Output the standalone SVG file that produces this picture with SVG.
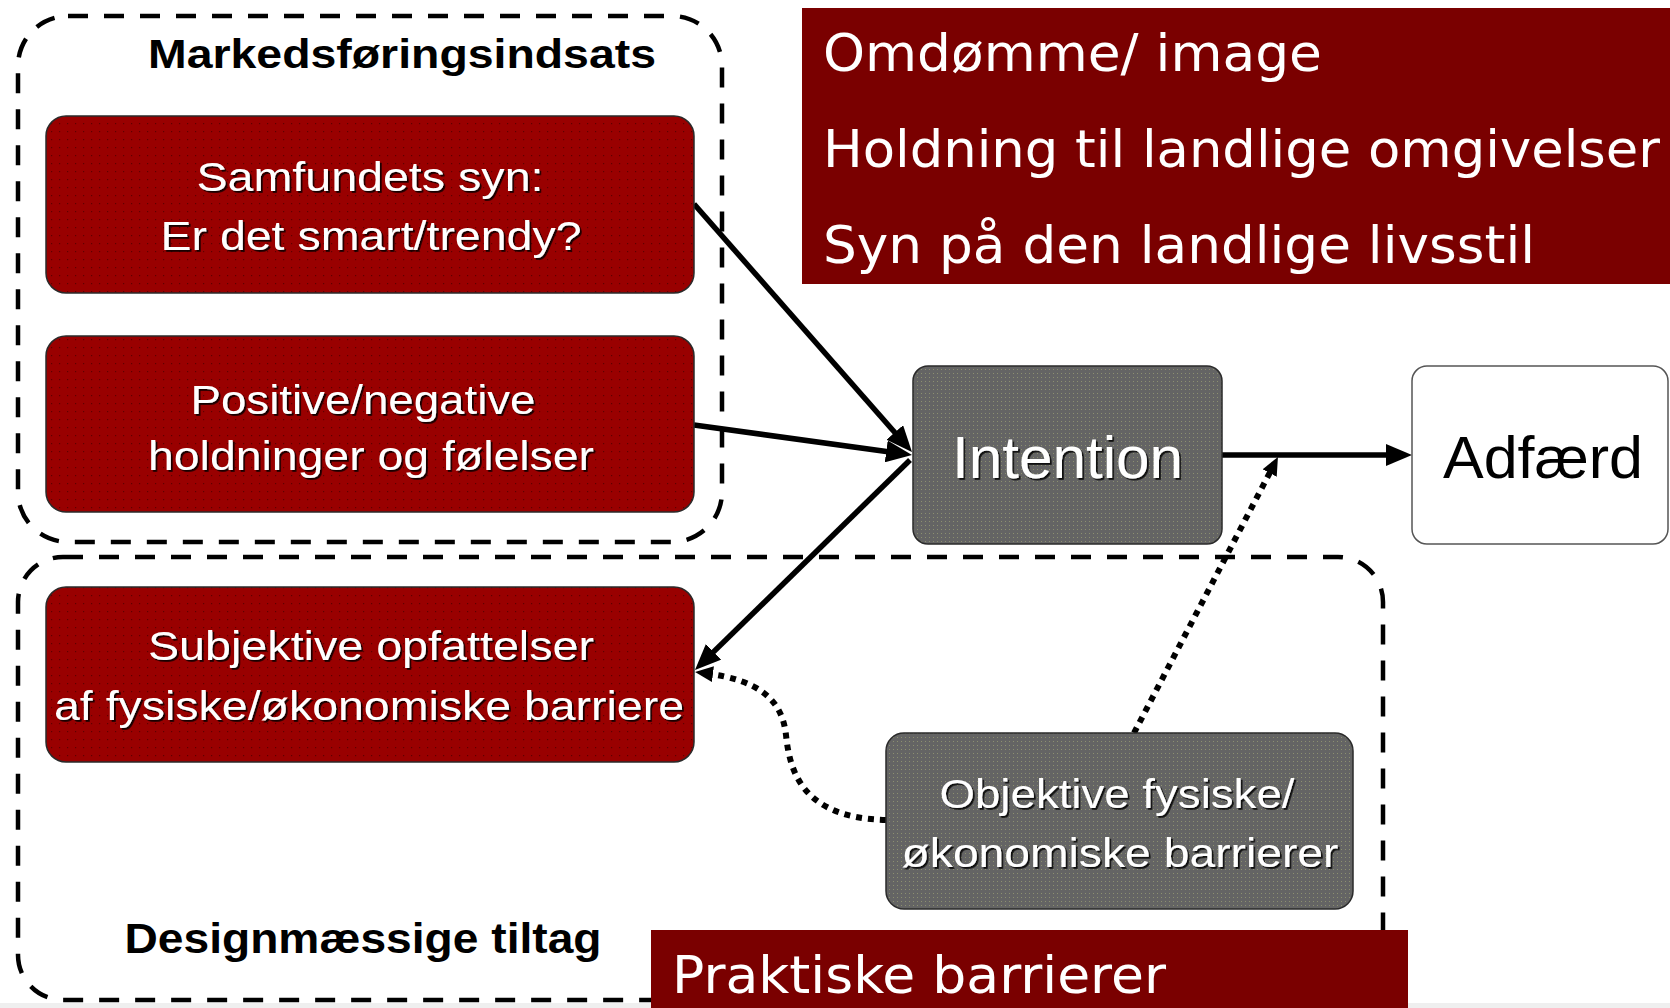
<svg xmlns="http://www.w3.org/2000/svg" width="1670" height="1008" viewBox="0 0 1670 1008">
<style>
.grp{fill:none;stroke:#000;stroke-width:4.5;stroke-dasharray:20 16}
.red{fill:url(#rdots);stroke:#2a2a2a;stroke-width:1.5}
.gray{fill:url(#gdots);stroke:#2a2a2a;stroke-width:1.5}
.wt{font-family:"Liberation Sans",Arial,sans-serif;font-size:41px;fill:#fff;text-anchor:middle;filter:url(#sh)}
.big{font-family:"Liberation Sans",Arial,sans-serif;font-size:60px;text-anchor:middle}
.hdr{font-family:"Liberation Sans",Arial,sans-serif;font-weight:bold;fill:#000;text-anchor:middle}
.ttl{font-family:"DejaVu Sans",Verdana,sans-serif;font-size:52px;fill:#fff}
.con{fill:none;stroke:#000;stroke-width:5.5}
.dot{fill:none;stroke:#000;stroke-width:6;stroke-dasharray:6 6}
</style>
<defs>
<pattern id="rdots" width="8" height="8" patternUnits="userSpaceOnUse">
<rect width="8" height="8" fill="#990000"/>
<rect x="3" y="3" width="1.2" height="1.2" fill="#5e0000"/>
</pattern>
<pattern id="gdots" width="4" height="4" patternUnits="userSpaceOnUse">
<rect width="4" height="4" fill="#646464"/>
<rect x="1" y="1" width="1" height="1" fill="#8c9070"/>
</pattern>
<filter id="sh" x="-5%" y="-20%" width="110%" height="140%">
<feDropShadow dx="1.8" dy="1.8" stdDeviation="0.6" flood-color="#000" flood-opacity="0.85"/>
</filter>
<marker id="arr" viewBox="0 0 26 22" markerWidth="26" markerHeight="22" markerUnits="userSpaceOnUse" refX="13" refY="11" orient="auto">
<path d="M0,0 L26,11 L0,22 Z" fill="#000"/>
</marker>
<marker id="arrs" viewBox="0 0 18 16" markerWidth="18" markerHeight="16" markerUnits="userSpaceOnUse" refX="9" refY="8" orient="auto">
<path d="M0,0 L18,8 L0,16 Z" fill="#000"/>
</marker>
</defs>
<rect width="1670" height="1008" fill="#fff"/>
<rect x="0" y="1003" width="1670" height="5" fill="#efefef"/>

<g id="group-markedsforing">
<path class="grp" d="M68 16 H672 A50 50 0 0 1 722 66 V492 A50 50 0 0 1 672 542 H68 A50 50 0 0 1 18 492 V66 A50 50 0 0 1 68 16 Z"/>
<text class="hdr" x="402" y="68" font-size="40" textLength="508" lengthAdjust="spacingAndGlyphs">Markedsføringsindsats</text>
</g>

<g id="group-design">
<path class="grp" d="M63 557 H1338 A45 45 0 0 1 1383 602 V955 A45 45 0 0 1 1338 1000 H63 A45 45 0 0 1 18 955 V602 A45 45 0 0 1 63 557 Z"/>
<text class="hdr" x="363" y="953" font-size="42" textLength="477" lengthAdjust="spacingAndGlyphs">Designmæssige tiltag</text>
</g>

<g id="title-box">
<rect x="802" y="8" width="868" height="276" fill="#7a0000"/>
<text class="ttl" x="823" y="71" textLength="499" lengthAdjust="spacingAndGlyphs">Omdømme/ image</text>
<text class="ttl" x="823" y="167" textLength="837" lengthAdjust="spacingAndGlyphs">Holdning til landlige omgivelser</text>
<text class="ttl" x="823" y="263" textLength="712" lengthAdjust="spacingAndGlyphs">Syn på den landlige livsstil</text>
</g>

<g id="connectors">
<line class="con" x1="694" y1="204" x2="903.4" y2="442.2" marker-end="url(#arr)"/>
<line class="con" x1="694" y1="425" x2="899.1" y2="453.2" marker-end="url(#arr)"/>
<line class="con" x1="910" y1="460" x2="704.3" y2="660.9" marker-end="url(#arr)"/>
<line class="con" x1="1222" y1="455" x2="1399" y2="455" marker-end="url(#arr)"/>
<path class="dot" d="M1134 733 L1273.8 465" marker-end="url(#arrs)"/>
<path class="dot" d="M886 820 C805 818 790 775 786 735 C782 700 760 680 704 673" marker-end="url(#arrs)"/>
</g>

<g id="node-samfundets">
<rect class="red" x="46" y="116" width="648" height="177" rx="20"/>
<text class="wt" x="370" y="191" textLength="347" lengthAdjust="spacingAndGlyphs">Samfundets syn:</text>
<text class="wt" x="371" y="250" textLength="421" lengthAdjust="spacingAndGlyphs">Er det smart/trendy?</text>
</g>

<g id="node-positive">
<rect class="red" x="46" y="336" width="648" height="176" rx="20"/>
<text class="wt" x="363" y="414" textLength="345" lengthAdjust="spacingAndGlyphs">Positive/negative</text>
<text class="wt" x="371" y="470" textLength="446" lengthAdjust="spacingAndGlyphs">holdninger og følelser</text>
</g>

<g id="node-subjektive">
<rect class="red" x="46" y="587" width="648" height="175" rx="20"/>
<text class="wt" x="371" y="660" textLength="446" lengthAdjust="spacingAndGlyphs">Subjektive opfattelser</text>
<text class="wt" x="369" y="720" textLength="630" lengthAdjust="spacingAndGlyphs">af fysiske/økonomiske barriere</text>
</g>

<g id="node-intention">
<rect class="gray" x="913" y="366" width="309" height="178" rx="15"/>
<text class="big" x="1067.5" y="478" fill="#fff" filter="url(#sh)" textLength="231" lengthAdjust="spacingAndGlyphs">Intention</text>
</g>

<g id="node-adfaerd">
<rect x="1412" y="366" width="256" height="178" rx="15" fill="#fff" stroke="#555" stroke-width="1.5"/>
<text class="big" x="1543" y="478" fill="#000" textLength="200" lengthAdjust="spacingAndGlyphs">Adfærd</text>
</g>

<g id="node-objektive">
<rect class="gray" x="886" y="733" width="467" height="176" rx="18"/>
<text class="wt" x="1117" y="808" textLength="355" lengthAdjust="spacingAndGlyphs">Objektive fysiske/</text>
<text class="wt" x="1120" y="867" textLength="437" lengthAdjust="spacingAndGlyphs">økonomiske barrierer</text>
</g>

<g id="praktiske-box">
<rect x="651" y="930" width="757" height="78" fill="#7a0000"/>
<text class="ttl" x="672" y="993" textLength="494" lengthAdjust="spacingAndGlyphs">Praktiske barrierer</text>
</g>
</svg>
